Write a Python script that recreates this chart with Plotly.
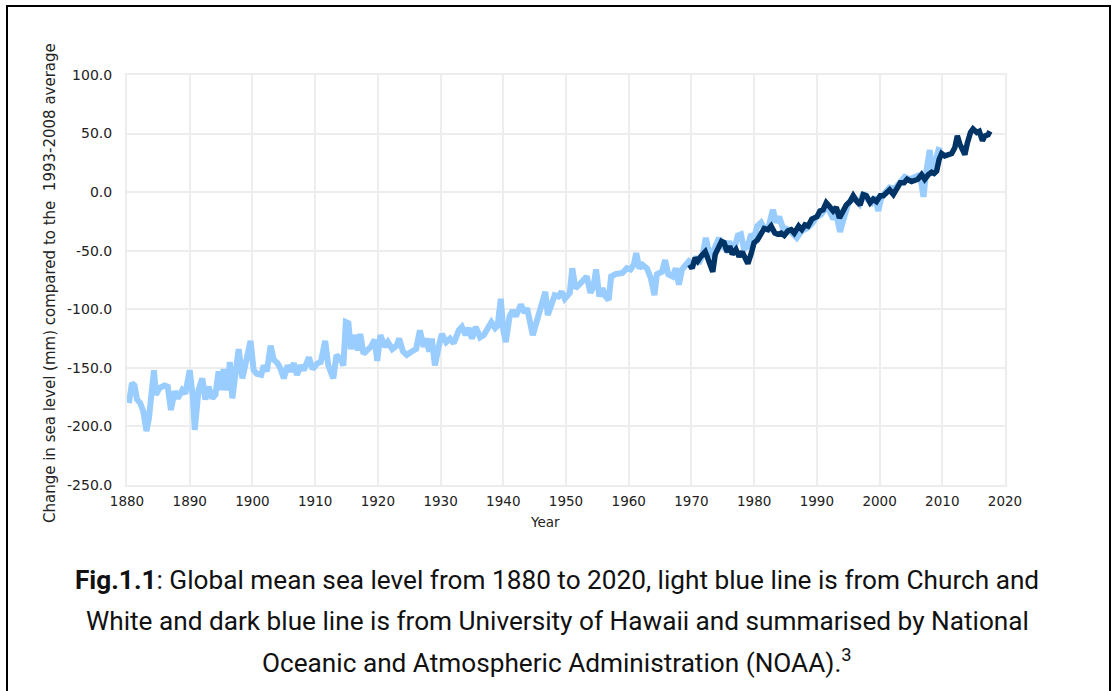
import plotly.graph_objects as go

# Church & White reconstruction (light blue), mm relative to 1993-2008 mean
cw_year = [
    1880.3, 1880.8, 1881.2, 1881.6, 1882.1, 1882.6, 1883.1, 1883.5, 1884.3, 1884.6,
    1885.2, 1886.0, 1886.5, 1887.0, 1887.6, 1888.1, 1888.8, 1889.3, 1890.0, 1890.5,
    1890.8, 1891.4, 1892.0, 1892.5, 1893.0, 1893.6, 1894.1, 1894.6, 1895.0, 1895.4,
    1896.0, 1896.4, 1896.8, 1897.2, 1897.8, 1898.4, 1898.9, 1899.7, 1900.2, 1900.7,
    1901.4, 1901.8, 1902.3, 1902.9, 1903.4, 1904.0, 1904.5, 1905.0, 1905.6, 1906.1,
    1906.6, 1907.1, 1907.7, 1908.2, 1909.0, 1909.6, 1910.4, 1910.9, 1911.6, 1912.1,
    1912.9, 1913.4, 1914.1, 1914.5, 1914.9, 1915.3, 1915.7, 1916.2, 1916.8, 1917.2,
    1917.7, 1918.4, 1918.9, 1919.5, 1919.9, 1920.4, 1921.1, 1921.6, 1922.3, 1923.0,
    1923.4, 1924.0, 1924.6, 1925.4, 1926.1, 1926.7, 1927.3, 1927.7, 1928.2, 1928.6,
    1929.1, 1929.7, 1930.2, 1930.9, 1931.5, 1932.1, 1932.9, 1933.4, 1934.0, 1934.5,
    1935.0, 1935.6, 1936.3, 1936.9, 1937.5, 1938.1, 1938.7, 1939.1, 1939.6, 1940.0,
    1940.4, 1941.0, 1941.5, 1942.0, 1942.8, 1943.4, 1943.8, 1944.3, 1944.7, 1945.3,
    1945.8, 1946.3, 1946.7, 1947.1, 1947.7, 1948.2, 1948.8, 1949.3, 1949.8, 1950.6,
    1951.0, 1951.5, 1952.1, 1952.7, 1953.3, 1953.9, 1954.4, 1954.8, 1955.3, 1955.8,
    1956.3, 1956.8, 1957.2, 1957.9, 1958.4, 1959.0, 1959.7, 1960.3, 1960.8, 1961.2,
    1961.7, 1962.2, 1962.9, 1963.5, 1964.1, 1964.5, 1965.3, 1965.8, 1966.3, 1967.0,
    1967.5, 1968.0, 1968.5, 1969.0, 1969.6, 1970.3, 1970.8, 1971.2, 1971.8, 1972.3,
    1972.7, 1973.3, 1973.9, 1974.4, 1974.9, 1975.5, 1976.0, 1976.7, 1977.4, 1977.9,
    1978.4, 1979.0, 1979.5, 1980.0, 1980.5, 1981.1, 1981.6, 1982.2, 1982.7, 1983.0,
    1983.5, 1984.0, 1984.6, 1985.1, 1985.7, 1986.3, 1986.8, 1987.6, 1988.4, 1989.2,
    1990.0, 1990.7, 1991.5, 1992.0, 1992.6, 1993.1, 1993.7, 1994.2, 1995.0, 1995.5,
    1996.3, 1996.8, 1997.4, 1998.2, 1998.7, 1999.2, 1999.8, 2000.3, 2001.1, 2001.6,
    2002.4, 2003.2, 2004.0, 2004.8, 2005.6, 2006.1, 2006.6, 2007.0, 2007.4, 2008.0,
    2008.3, 2008.8, 2009.1, 2009.4, 2009.9,
]
cw_level = [
    -180, -163, -165, -177, -180, -187, -204, -193, -152, -173,
    -167, -165, -166, -186, -170, -176, -169, -172, -152, -175,
    -203, -169, -159, -177, -166, -176, -173, -153, -169, -151,
    -169, -145, -176, -156, -134, -159, -148, -127, -152, -155,
    -156, -148, -153, -131, -143, -146, -151, -159, -148, -153,
    -146, -156, -148, -152, -141, -151, -146, -145, -127, -148,
    -159, -139, -143, -148, -111, -112, -134, -122, -135, -121,
    -138, -135, -132, -126, -144, -122, -132, -128, -134, -131,
    -125, -136, -139, -136, -134, -118, -132, -125, -136, -125,
    -148, -132, -121, -128, -125, -129, -118, -115, -122, -116,
    -125, -115, -124, -122, -116, -111, -116, -114, -91, -118,
    -128, -106, -101, -106, -96, -103, -99, -111, -122, -111,
    -102, -95, -85, -105, -95, -88, -89, -85, -91, -86,
    -65, -82, -79, -75, -72, -86, -80, -66, -89, -82,
    -89, -92, -72, -70, -70, -69, -65, -66, -62, -52,
    -65, -62, -65, -73, -88, -70, -68, -58, -70, -72,
    -65, -79, -66, -62, -59, -62, -55, -61, -53, -39,
    -49, -53, -45, -39, -46, -49, -42, -51, -37, -36,
    -49, -46, -36, -39, -29, -26, -31, -32, -21, -15,
    -26, -21, -31, -31, -33, -36, -39, -33, -31, -27,
    -21, -19, -13, -16, -23, -19, -34, -24, -10, -6,
    -7, -10, -1, -7, -9, -4, -16, -4, 0, 4,
    3, 9, 13, 11, 13, 14, 10, -4, 16, 36,
    20, 24, 30, 36, 35,
]

# University of Hawaii tide-gauge series (dark blue)
uh_year = [
    1969.7, 1970.1, 1970.6, 1971.0, 1971.5, 1972.2, 1972.5, 1972.9, 1973.4, 1973.8,
    1974.3, 1974.8, 1975.2, 1975.7, 1976.1, 1976.5, 1977.1, 1977.6, 1978.1, 1978.5,
    1979.0, 1979.5, 1980.0, 1980.5, 1981.1, 1981.6, 1982.2, 1982.7, 1983.3, 1983.8,
    1984.3, 1984.8, 1985.4, 1985.9, 1986.4, 1987.1, 1987.6, 1988.1, 1988.6, 1989.2,
    1990.0, 1990.5, 1991.0, 1991.5, 1992.0, 1992.6, 1993.1, 1993.6, 1994.2, 1994.7,
    1995.3, 1995.8, 1996.4, 1996.9, 1997.4, 1997.9, 1998.5, 1999.0, 1999.5, 2000.1,
    2000.6, 2001.1, 2001.6, 2002.2, 2002.7, 2003.3, 2003.9, 2004.4, 2005.1, 2005.6,
    2006.1, 2006.7, 2007.2, 2007.8, 2008.3, 2008.7, 2009.1, 2009.5, 2009.9, 2010.4,
    2011.0, 2011.5, 2012.0, 2012.4, 2012.8, 2013.2, 2013.6, 2014.0, 2014.5, 2014.9,
    2015.5, 2015.9, 2016.4, 2016.8, 2017.3, 2017.6,
]
uh_level = [
    -62, -65, -56, -59, -55, -51, -55, -61, -68, -53,
    -46, -42, -43, -51, -46, -53, -49, -55, -51, -55,
    -61, -53, -43, -41, -36, -31, -32, -29, -35, -36,
    -35, -37, -33, -32, -35, -29, -32, -28, -29, -23,
    -21, -16, -15, -9, -12, -16, -13, -22, -16, -11,
    -8, -3, -8, -11, -2, -3, -9, -6, -8, -3,
    -3, -1, 2, -2, 2, 8, 8, 11, 9, 10,
    11, 15, 11, 15, 17, 16, 18, 28, 33, 31,
    32, 33, 38, 48, 41, 37, 32, 42, 51, 54,
    51, 52, 44, 48, 49, 52,
]

x_ticks = list(range(1880, 2021, 10))
y_ticks = list(range(-250, 101, 50))

W, H = 1114, 691
ML, MR, MT, MB = 127, 109, 75, 206
PW, PH = W - ML - MR, H - MT - MB


def px(x):
    return (x - ML) / PW


def py(y):
    return (H - MB - y) / PH


fig = go.Figure()
fig.add_trace(go.Scatter(
    x=cw_year, y=cw_level, mode="lines",
    line=dict(color="#99ccff", width=6), hoverinfo="skip", showlegend=False,
))
fig.add_trace(go.Scatter(
    x=uh_year, y=uh_level, mode="lines",
    line=dict(color="#003366", width=5.5), hoverinfo="skip", showlegend=False,
))

tick_font = dict(family="DejaVu Sans, Verdana, sans-serif", size=13.5, color="#222222")
title_font = dict(family="DejaVu Sans, Verdana, sans-serif", size=15, color="#222222")
grid = "#ededed"

fig.update_xaxes(
    range=[1880, 2020], tickvals=x_ticks, ticktext=[str(t) for t in x_ticks],
    showgrid=True, gridcolor=grid, gridwidth=2,
    showline=True, linecolor=grid, linewidth=2, mirror=True,
    zeroline=False, ticks="", tickfont=tick_font, ticklabelstandoff=3,
)
fig.update_yaxes(
    range=[-250, 100], tickvals=y_ticks, ticktext=[f"{t:.1f}" for t in y_ticks],
    showgrid=True, gridcolor=grid, gridwidth=2,
    showline=True, linecolor=grid, linewidth=2, mirror=True,
    zeroline=False, ticks="", tickfont=dict(tick_font, size=14), ticklabelstandoff=10,
)

annotations = [
    dict(text="Year", x=px(545), y=py(522), xref="paper", yref="paper",
         showarrow=False, font=tick_font, xanchor="center", yanchor="middle"),
    dict(text="Change in sea level (mm) compared to the  1993-2008 average",
         x=px(50), y=py(283), xref="paper", yref="paper", textangle=-90,
         showarrow=False, font=title_font, xanchor="center", yanchor="middle"),
]

cap_font = dict(family="Roboto, Noto Sans, sans-serif", size=26.2, color="#111111")
caption = [
    "<b>Fig.1.1</b>: Global mean sea level from 1880 to 2020, light blue line is from Church and",
    "White and dark blue line is from University of Hawaii and summarised by National",
    "Oceanic and Atmospheric Administration (NOAA).<sup>3</sup>",
]
for i, line in enumerate(caption):
    annotations.append(dict(
        text=line, x=px(557), y=py(580 + 40.5 * i), xref="paper", yref="paper",
        showarrow=False, font=cap_font, xanchor="center", yanchor="middle",
    ))

fig.update_layout(
    width=W, height=H,
    margin=dict(l=ML, r=MR, t=MT, b=MB, pad=0),
    paper_bgcolor="white", plot_bgcolor="white",
    annotations=annotations,
    shapes=[dict(
        type="rect", xref="paper", yref="paper",
        x0=px(7), x1=px(1110), y0=py(720), y1=py(6),
        line=dict(color="#000000", width=2), fillcolor="rgba(0,0,0,0)",
    )],
)

fig.write_html("out.html")
